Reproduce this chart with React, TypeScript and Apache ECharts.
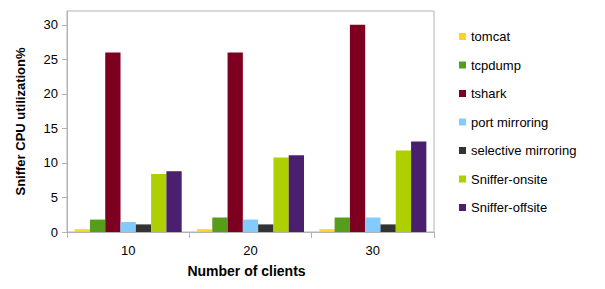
import React, { useEffect, useRef } from "react";
import * as echarts from "echarts";

const categories = ["10", "20", "30"];
const seriesNames = ["tomcat", "tcpdump", "tshark", "port mirroring", "selective mirroring", "Sniffer-onsite", "Sniffer-offsite"];
const tomcat = [0.4, 0.4, 0.4];
const tcpdump = [1.8, 2.1, 2.1];
const tshark = [26, 26, 30];
const portMirroring = [1.45, 1.8, 2.1];
const selectiveMirroring = [1.1, 1.1, 1.1];
const snifferOnsite = [8.4, 10.8, 11.8];
const snifferOffsite = [8.8, 11.1, 13.1];
const colors = ["#ffd320", "#579d1c", "#7e0021", "#83caff", "#333333", "#aecf00", "#4b1f6f"];

export default function App() {
  const ref = useRef<HTMLDivElement>(null);
  useEffect(() => {
    if (!ref.current) return;
    const chart = echarts.init(ref.current, undefined, { renderer: "svg" });
    const values = [tomcat, tcpdump, tshark, portMirroring, selectiveMirroring, snifferOnsite, snifferOffsite];
    chart.setOption({
      animation: false,
      textStyle: { fontFamily: "Liberation Sans" },
      grid: { left: 67, right: 171, top: 11, bottom: 57, show: true, borderColor: "#b3b3b3", borderWidth: 1 },
      legend: {
        orient: "vertical",
        left: 454,
        top: 25,
        itemWidth: 7,
        itemHeight: 7,
        itemGap: 15.5,
        icon: "rect",
        textStyle: { fontSize: 13, color: "#000", fontFamily: "Liberation Sans" },
        data: seriesNames,
      },
      xAxis: {
        type: "category",
        data: categories,
        axisLine: { lineStyle: { color: "#b3b3b3" } },
        axisTick: { show: true, length: 6, lineStyle: { color: "#b3b3b3" } },
        axisLabel: { fontSize: 13, color: "#000", margin: 12 },
        name: "Number of clients",
        nameLocation: "middle",
        nameGap: 32,
        nameTextStyle: { fontSize: 14, fontWeight: "bold", color: "#000", padding: [0, 8, 0, 0] },
      },
      yAxis: {
        type: "value",
        min: 0,
        max: 32,
        interval: 5,
        splitLine: { show: false },
        axisLine: { show: true, lineStyle: { color: "#b3b3b3" } },
        axisTick: { show: true, length: 5, lineStyle: { color: "#b3b3b3" } },
        axisLabel: {
          fontSize: 13,
          color: "#000",
          margin: 9,
          showMaxLabel: false,
          formatter: (v: number) => (v % 5 === 0 ? String(v) : ""),
        },
        name: "Sniffer CPU utilization%",
        nameLocation: "middle",
        nameGap: 40,
        nameTextStyle: { fontSize: 13, fontWeight: "bold", color: "#000" },
      },
      series: seriesNames.map((n, i) => ({
        name: n,
        type: "bar",
        data: values[i],
        barGap: "0%",
        barCategoryGap: "12.5%",
        itemStyle: { color: colors[i] },
      })),
    });
    return () => chart.dispose();
  }, []);
  return <div ref={ref} style={{ width: 605, height: 289, position: "absolute", left: 0, top: 0 }} />;
}
